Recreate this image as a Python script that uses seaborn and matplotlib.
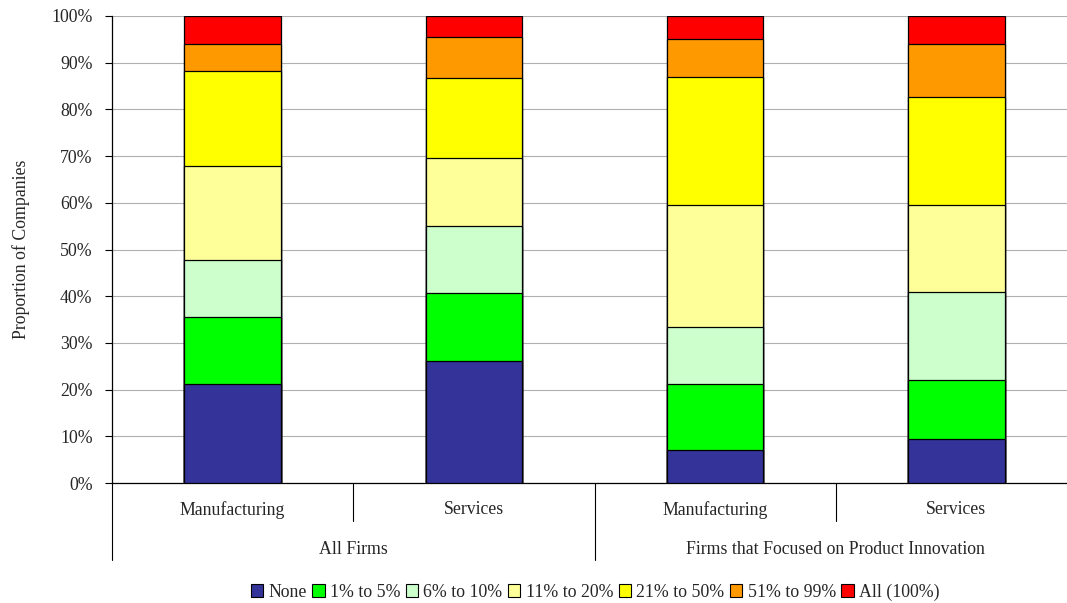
import matplotlib
matplotlib.use("Agg")
import matplotlib.pyplot as plt
import seaborn as sns
import pandas as pd
import numpy as np
from matplotlib.patches import Patch

# ---- data ----
groups = ["All Firms", "All Firms",
          "Firms that Focused on Product Innovation", "Firms that Focused on Product Innovation"]
sectors = ["Manufacturing", "Services", "Manufacturing", "Services"]
series = ["None", "1% to 5%", "6% to 10%", "11% to 20%", "21% to 50%", "51% to 99%", "All (100%)"]
none_v = [21.3, 26.1, 7.1, 9.5]
p1_5 = [14.2, 14.6, 14.2, 12.6]
p6_10 = [12.3, 14.3, 12.0, 18.9]
p11_20 = [20.1, 14.6, 26.2, 18.5]
p21_50 = [20.4, 17.1, 27.4, 23.1]
p51_99 = [5.8, 8.8, 8.2, 11.3]
all_v = [5.9, 4.5, 4.9, 6.1]
colors = ["#333399", "#00FF00", "#CCFFCC", "#FFFF99", "#FFFF00", "#FF9900", "#FF0000"]

sns.set_theme(style="white")
plt.rcParams['font.family'] = ['Liberation Serif', 'DejaVu Serif']
FS = 12.8

keys = [f"{g}|{s}" for g, s in zip(groups, sectors)]
vals = np.array([none_v, p1_5, p6_10, p11_20, p21_50, p51_99, all_v])
cum = np.cumsum(vals, axis=0)

fig = plt.figure(figsize=(10.67, 6.03), dpi=100)
ax = fig.add_axes([112/1067, 1-483/603, 965/1067, 467/603])

for i in range(len(series) - 1, -1, -1):
    df = pd.DataFrame({"key": keys, "val": cum[i]})
    sns.barplot(data=df, x="key", y="val", order=keys, color=colors[i],
                width=0.4, edgecolor="black", linewidth=0.9, ax=ax,
                saturation=1, zorder=3)

ax.set_xlim(-0.5, 3.5)
ax.set_ylim(0, 100)
ax.set_yticks(np.arange(0, 101, 10))
ax.set_yticklabels([f"{v}%" for v in range(0, 101, 10)], fontsize=FS)
ax.yaxis.grid(True, color="#b0b0b0", linewidth=0.8, linestyle="-")
ax.set_axisbelow(True)
ax.tick_params(axis="y", which="both", left=True, length=5, width=0.8, color="black", pad=9)
ax.set_xticks([])
ax.set_xlabel("")
ax.set_ylabel("Proportion of Companies", fontsize=FS, labelpad=15)
for s in ["top", "right"]:
    ax.spines[s].set_visible(False)
ax.spines["left"].set_color("black")
ax.spines["bottom"].set_color("black")
ax.spines["left"].set_linewidth(0.9)
ax.spines["bottom"].set_linewidth(0.9)

trans = ax.get_xaxis_transform()
short = -38/467
long_ = -77/467
for xb in [0.5, 2.5]:
    ax.plot([xb, xb], [0, short], transform=trans, color="black", lw=0.8, clip_on=False)
for xb in [-0.5, 1.5, 3.5]:
    ax.plot([xb, xb], [0, long_], transform=trans, color="black", lw=0.8, clip_on=False)

for i, s in enumerate(sectors):
    ax.text(i, -27/467, s, transform=trans, ha="center", va="center", fontsize=FS)
ug = []
for g in groups:
    if g not in ug:
        ug.append(g)
for j, g in enumerate(ug):
    idx = [k for k, gg in enumerate(groups) if gg == g]
    ax.text(np.mean(idx), -66/467, g, transform=trans, ha="center", va="center", fontsize=FS)

handles = [Patch(facecolor=c, edgecolor="black", linewidth=0.8) for c in colors]
fig.legend(handles, series, loc="center", bbox_to_anchor=(595/1067, 1-592/603),
           ncol=7, frameon=False, fontsize=FS, handlelength=0.7, handleheight=0.7,
           handletextpad=0.3, columnspacing=0.3)

fig.savefig("out.png", dpi=100)
